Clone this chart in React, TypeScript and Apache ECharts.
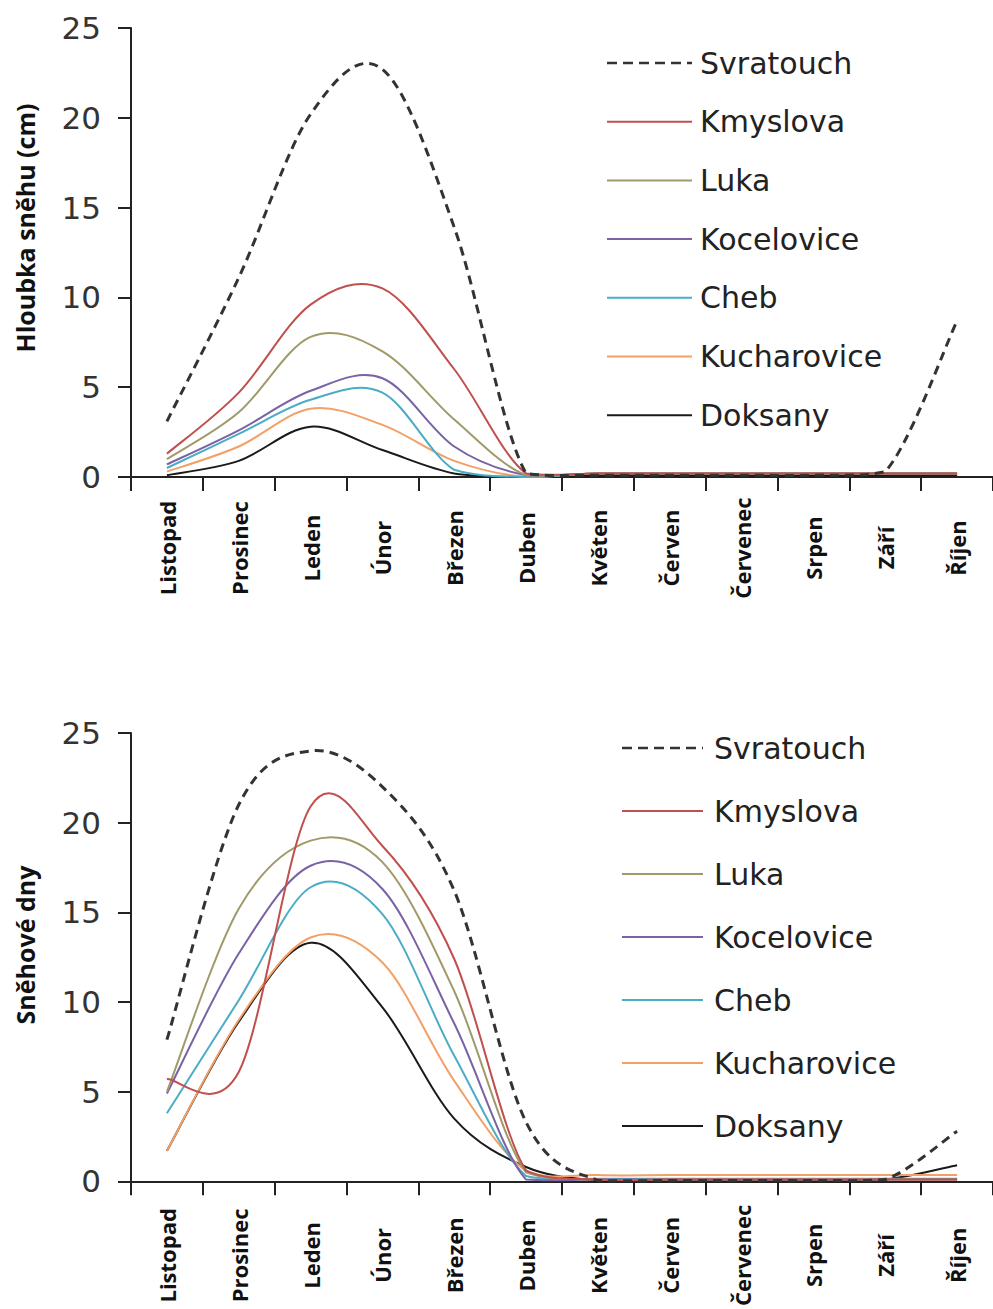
import React, { useEffect, useRef } from 'react';
import * as echarts from 'echarts';

const months = ['Listopad', 'Prosinec', 'Leden', 'Únor', 'Březen', 'Duben', 'Květen', 'Červen', 'Červenec', 'Srpen', 'Září', 'Říjen'];
const stations = ['Svratouch', 'Kmyslova', 'Luka', 'Kocelovice', 'Cheb', 'Kucharovice', 'Doksany'];
const colors = ['#333333', '#c0504d', '#a09a6a', '#7a62a6', '#4bacc6', '#f2a066', '#1a1a1a'];

// Hloubka sněhu (cm)
const depthSvratouch = [3.1, 11.1, 20.2, 22.7, 13.9, 0.2, 0.1, 0.1, 0.1, 0.1, 0.3, 8.7];
const depthKmyslova = [1.3, 4.7, 9.6, 10.5, 6.0, 0.2, 0.2, 0.2, 0.2, 0.2, 0.2, 0.2];
const depthLuka = [1.0, 3.6, 7.8, 7.0, 3.2, 0.1, 0.2, 0.2, 0.2, 0.2, 0.2, 0.2];
const depthKocelovice = [0.7, 2.6, 4.8, 5.5, 1.7, 0.1, 0.2, 0.2, 0.2, 0.2, 0.2, 0.2];
const depthCheb = [0.5, 2.4, 4.3, 4.7, 0.4, 0.0, 0.2, 0.2, 0.2, 0.2, 0.2, 0.2];
const depthKucharovice = [0.3, 1.7, 3.8, 2.9, 0.9, 0.0, 0.2, 0.2, 0.2, 0.2, 0.2, 0.2];
const depthDoksany = [0.1, 0.9, 2.8, 1.5, 0.2, 0.0, 0.1, 0.1, 0.1, 0.1, 0.1, 0.1];

// Sněhové dny
const daysSvratouch = [7.9, 21.0, 24.0, 22.0, 16.2, 3.3, 0.05, 0.05, 0.05, 0.05, 0.1, 2.8];
const daysKmyslova = [5.7, 6.1, 20.9, 18.7, 12.4, 0.6, 0.1, 0.1, 0.1, 0.1, 0.1, 0.1];
const daysLuka = [5.0, 15.2, 19.0, 17.8, 10.6, 0.5, 0.1, 0.1, 0.1, 0.1, 0.1, 0.1];
const daysKocelovice = [4.9, 12.7, 17.6, 16.3, 8.8, 0.1, 0.1, 0.1, 0.1, 0.1, 0.1, 0.1];
const daysCheb = [3.8, 10.1, 16.4, 14.9, 7.0, 0.3, 0.15, 0.15, 0.15, 0.15, 0.15, 0.15];
const daysKucharovice = [1.7, 9.0, 13.6, 12.2, 5.6, 0.6, 0.35, 0.35, 0.35, 0.35, 0.35, 0.35];
const daysDoksany = [1.7, 8.9, 13.3, 9.7, 3.5, 0.8, 0.05, 0.05, 0.05, 0.05, 0.1, 0.9];

const depthData = [depthSvratouch, depthKmyslova, depthLuka, depthKocelovice, depthCheb, depthKucharovice, depthDoksany];
const daysData = [daysSvratouch, daysKmyslova, daysLuka, daysKocelovice, daysCheb, daysKucharovice, daysDoksany];

const yMin = 0;
const yMax = 25;
const yInterval = 5;

const yName1 = 'Hloubka sněhu (cm)';
const yName2 = 'Sněhové dny';

// Smooth (Catmull-Rom) path through points projected by the chart's own axes
function smoothPath(pts: number[][], yFloor: number): string {
  const n = pts.length;
  const t = 1 / 6;
  let d = `M${pts[0][0]},${pts[0][1]}`;
  for (let i = 0; i < n - 1; i++) {
    const p0 = pts[Math.max(0, i - 1)];
    const p1 = pts[i];
    const p2 = pts[i + 1];
    const p3 = pts[Math.min(n - 1, i + 2)];
    const c1x = p1[0] + (p2[0] - p0[0]) * t;
    const c1y = Math.min(yFloor, p1[1] + (p2[1] - p0[1]) * t);
    const c2x = p2[0] - (p3[0] - p1[0]) * t;
    const c2y = Math.min(yFloor, p2[1] - (p3[1] - p1[1]) * t);
    d += ` C${c1x},${c1y} ${c2x},${c2y} ${p2[0]},${p2[1]}`;
  }
  return d;
}

export default function App() {
  const ref = useRef<HTMLDivElement>(null);

  useEffect(() => {
    if (!ref.current) return;
    const chart = echarts.init(ref.current, null, { renderer: 'svg' });

    const makeX = (gridIndex: number, margin: number) => ({
      type: 'category',
      gridIndex,
      data: months,
      boundaryGap: true,
      axisLine: { show: true, lineStyle: { color: '#222', width: 2 } },
      axisTick: { show: true, length: 14, lineStyle: { color: '#222', width: 2 } },
      axisLabel: {
        rotate: 90,
        align: 'center',
        verticalAlign: 'middle',
        margin,
        interval: 0,
        fontFamily: '"Open Sans"',
        fontWeight: 'bold',
        fontSize: 22,
        color: '#111',
      },
      splitLine: { show: false },
    });

    const makeY = (gridIndex: number) => ({
      type: 'value',
      gridIndex,
      min: yMin,
      max: yMax,
      interval: yInterval,
      axisLine: { show: true, lineStyle: { color: '#222', width: 2 } },
      axisTick: { show: true, length: 13, lineStyle: { color: '#222', width: 2 } },
      axisLabel: {
        margin: 30,
        fontFamily: '"DejaVu Sans"',
        fontSize: 31,
        color: '#333',
      },
      splitLine: { show: false },
    });

    const makeSeries = (data: number[][], idx: number) =>
      stations.map((name, i) => {
        const values = data[i];
        return {
          name,
          type: 'custom',
          xAxisIndex: idx,
          yAxisIndex: idx,
          data: values.map((v, k) => [k, v]),
          encode: { x: 0, y: 1 },
          z: 10 - i,
          silent: true,
          renderItem: (params: any, api: any) => {
            if (params.dataIndex !== values.length - 1) return null;
            const pts = values.map((v, k) => api.coord([k, v]));
            const yFloor = api.coord([0, 0])[1];
            return {
              type: 'path',
              shape: { pathData: smoothPath(pts, yFloor) },
              style: {
                fill: 'none',
                stroke: colors[i],
                lineWidth: i === 0 ? 3 : 2,
                lineDash: i === 0 ? [9, 6] : null,
              },
            };
          },
        };
      });

    const legendGraphics = (lineX1: number, lineX2: number, textX: number, y0: number, pitch: number) => {
      const els: any[] = [];
      stations.forEach((name, i) => {
        const y = y0 + i * pitch;
        els.push({
          type: 'line',
          shape: { x1: lineX1, y1: y, x2: lineX2, y2: y },
          style: { stroke: colors[i], lineWidth: i === 0 ? 2.5 : 2, lineDash: i === 0 ? [10, 6] : null },
        });
        els.push({
          type: 'text',
          x: textX,
          y,
          style: {
            text: name,
            fill: '#222',
            fontFamily: '"DejaVu Sans"',
            fontSize: 30,
            align: 'left',
            verticalAlign: 'middle',
          },
        });
      });
      return els;
    };

    const axisName = (text: string, x: number, y: number) => ({
      type: 'text',
      x,
      y,
      rotation: Math.PI / 2,
      style: {
        text,
        fill: '#111',
        fontFamily: '"Open Sans"',
        fontWeight: 'bold',
        fontSize: 25,
        align: 'center',
        verticalAlign: 'middle',
      },
    });

    const option: any = {
      animation: false,
      backgroundColor: '#ffffff',
      grid: [
        { left: 131, top: 28, width: 869, height: 449 },
        { left: 131, top: 733, width: 869, height: 450 },
      ],
      xAxis: [makeX(0, 71), makeX(1, 74)],
      yAxis: [makeY(0), makeY(1)],
      series: [...makeSeries(depthData, 0), ...makeSeries(daysData, 1)],
      graphic: [
        axisName(yName1, 25, 228),
        axisName(yName2, 25, 945),
        ...legendGraphics(607, 692, 700, 63, 58.7),
        ...legendGraphics(622, 703, 714, 748, 63),
      ],
    };

    chart.setOption(option);
    return () => chart.dispose();
  }, []);

  return (
    <div
      ref={ref}
      style={{ position: 'absolute', left: 0, top: 0, width: 993, height: 1309, background: '#fff', overflow: 'hidden' }}
    />
  );
}
